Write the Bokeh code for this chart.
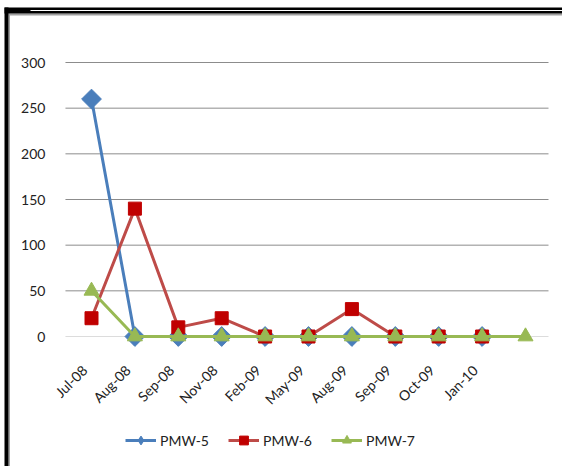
import math
from bokeh.plotting import figure
from bokeh.models import FixedTicker, Legend, LegendItem, Range1d, BoxAnnotation
from bokeh.embed import file_html
from bokeh.resources import INLINE

# ---- data ----
dates = ["Jul-08", "Aug-08", "Sep-08", "Nov-08", "Feb-09", "May-09",
         "Aug-09", "Sep-09", "Oct-09", "Jan-10"]
pmw5 = [260, 0, 0, 0, 0, 0, 0, 0, 0, 0]
pmw6 = [20, 140, 10, 20, 0, 0, 30, 0, 0, 0]
pmw7 = [50, 0, 0, 0, 0, 0, 0, 0, 0, 0, 0]
y_ticks = [0, 50, 100, 150, 200, 250, 300]

FONT = "Lato"
W, H = 562, 466
PX_X = 43.4        # pixels per category
PX_Y = 0.91333     # pixels per unit
X0 = -91 / PX_X
Y1 = 336 / PX_Y
x_rng = Range1d(X0, X0 + W / PX_X)
y_rng = Range1d(Y1 - H / PX_Y, Y1)
GX0, GX1 = -0.6, 10.53   # plot-area extent in category units
LABEL_SHIFT = 0.16       # small leftward nudge of the rotated date labels

p = figure(width=W, height=H, output_backend="svg", toolbar_location=None,
           x_range=x_rng, y_range=y_rng,
           min_border_left=0, min_border_right=0, min_border_top=0,
           min_border_bottom=0)
p.outline_line_color = None
p.background_fill_color = "white"
p.border_fill_color = "white"
p.xgrid.visible = False
p.ygrid.visible = False

# outer chart border (top and left)
def band(**kw):
    p.add_layout(BoxAnnotation(fill_alpha=1, line_color=None, level="overlay", **kw))

band(bottom=Y1 - 15 / PX_Y, top=Y1 - 13 / PX_Y, left=X0 + 8 / PX_X, fill_color="#a0a0a0")
band(left=X0 + 8 / PX_X, right=X0 + 9.5 / PX_X, top=Y1 - 13 / PX_Y, fill_color="#a0a0a0")
band(bottom=Y1 - 13 / PX_Y, top=Y1 - 7 / PX_Y, left=X0 + 4 / PX_X, fill_color="black")
band(bottom=Y1 - 10.6 / PX_Y, top=Y1 - 9.6 / PX_Y, left=X0 + 30 / PX_X, fill_color="white")
band(left=X0 + 4 / PX_X, right=X0 + 8 / PX_X, top=Y1 - 7 / PX_Y, fill_color="black")

# horizontal gridlines
grid_y = [t for t in y_ticks if t > 0]
p.segment(x0=[GX0] * len(grid_y), x1=[GX1] * len(grid_y), y0=grid_y, y1=grid_y,
          line_color="#8c8c8c", line_width=1)
p.segment(x0=[GX0], x1=[GX1], y0=[0], y1=[0], line_color="#dcdcdc", line_width=1)

# axes drawn inside the frame
p.yaxis.fixed_location = GX0
p.yaxis.ticker = FixedTicker(ticks=y_ticks)
p.yaxis.axis_line_color = None
p.yaxis.major_tick_line_color = None
p.yaxis.minor_tick_line_color = None
p.yaxis.major_label_text_font = FONT
p.yaxis.major_label_text_font_size = "14px"
p.yaxis.major_label_text_color = "#222222"
p.yaxis.major_label_standoff = 14

x_ticks = [i - LABEL_SHIFT for i in range(len(dates))]
p.xaxis.fixed_location = 0
p.xaxis.ticker = FixedTicker(ticks=x_ticks)
p.xaxis.major_label_overrides = {t: d for t, d in zip(x_ticks, dates)}
p.xaxis.axis_line_color = None
p.xaxis.major_tick_line_color = None
p.xaxis.minor_tick_line_color = None
p.xaxis.major_label_orientation = math.pi / 4
p.xaxis.major_label_text_font = FONT
p.xaxis.major_label_text_font_size = "14px"
p.xaxis.major_label_text_color = "#222222"
p.xaxis.major_label_standoff = 25

x5 = list(range(len(pmw5)))
x6 = list(range(len(pmw6)))
x7 = list(range(len(pmw7)))

BLUE, RED_L, RED_M, GREEN = "#4a7ebb", "#be4b48", "#c00000", "#98b954"

l5 = p.line(x5, pmw5, line_color=BLUE, line_width=3)
p.scatter(x5, pmw5, marker="square", angle=math.pi / 4, size=14,
          fill_color=BLUE, line_color=BLUE)
m5 = p.scatter(x5, pmw5, marker="diamond", size=14,
               fill_color=BLUE, line_color=BLUE)
l6 = p.line(x6, pmw6, line_color=RED_L, line_width=3)
m6 = p.scatter(x6, pmw6, marker="square", size=13,
               fill_color=RED_M, line_color=RED_M)
l7 = p.line(x7, pmw7, line_color=GREEN, line_width=3)
m7 = p.scatter(x7, pmw7, marker="triangle", size=15,
               fill_color=GREEN, line_color=GREEN)

legend = Legend(items=[LegendItem(label="PMW-5", renderers=[l5, m5]),
                       LegendItem(label="PMW-6", renderers=[l6, m6]),
                       LegendItem(label="PMW-7", renderers=[l7, m7])],
                orientation="horizontal", location=(125, 15),
                glyph_width=31, glyph_height=22, label_height=22,
                label_standoff=4, spacing=19, padding=2, margin=0,
                label_text_font=FONT, label_text_font_size="14px",
                label_text_color="#222222",
                border_line_color=None, background_fill_alpha=0)
p.add_layout(legend, "center")

open("out.html", "w").write(file_html(p, INLINE))
